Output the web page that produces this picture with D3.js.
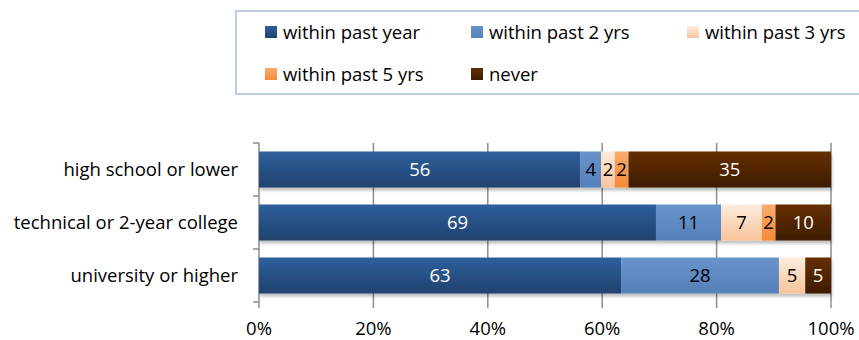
<!DOCTYPE html>
<html>
<head>
<meta charset="utf-8">
<script src="https://cdn.jsdelivr.net/npm/d3@7"></script>
<style>
  body { margin: 0; background: #fff; }
  svg { display: block; font-family: 'Open Sans', 'Liberation Sans', Arial, sans-serif; }
</style>
</head>
<body>
<div id="chart"></div>
<script>
// Education groups, top to bottom.
const categories = ['high school or lower', 'technical or 2-year college', 'university or higher']

// Series (in percent).
const seriesNames = ['within past year', 'within past 2 yrs', 'within past 3 yrs', 'within past 5 yrs', 'never']
const pastYear = [56.2, 69.4, 63.3]
const past2 = [3.6, 11.4, 27.6]
const past3 = [2.4, 7.1, 4.6]
const past5 = [2.4, 2.4, 0]
const never = [35.4, 9.7, 4.5]

const tickValues = [0, 20, 40, 60, 80, 100]

// Gradient stops (top, bottom) and label colour per series.
const fills = [
  ['#2e5f9c', '#20426f'],
  ['#6893cb', '#5580b9'],
  ['#fdecde', '#f8c49a'],
  ['#f9ab6e', '#f68a38'],
  ['#652f00', '#3e1c00']
]
const labelColors = ['#fff', '#000', '#000', '#000', '#fff']

const fontSize = 18.5
const width = 859, height = 340
const margin = { left: 259, right: 28, top: 143, bottom: 38 }

const rows = categories.map((c, i) => ({
  cat: c,
  s0: pastYear[i], s1: past2[i], s2: past3[i], s3: past5[i], s4: never[i]
}))
const keys = ['s0', 's1', 's2', 's3', 's4']
const stacked = d3.stack().keys(keys)(rows)

const svg = d3.select('#chart').append('svg')
  .attr('width', width)
  .attr('height', height)

const defs = svg.append('defs')
fills.forEach((f, i) => {
  const g = defs.append('linearGradient')
    .attr('id', 'grad' + i)
    .attr('x1', 0).attr('y1', 0).attr('x2', 0).attr('y2', 1)
  g.append('stop').attr('offset', '0%').attr('stop-color', f[0])
  g.append('stop').attr('offset', '100%').attr('stop-color', f[1])
})
const shadow = defs.append('filter').attr('id', 'shadow')
  .attr('x', '-5%').attr('y', '-20%').attr('width', '110%').attr('height', '150%')
shadow.append('feDropShadow')
  .attr('dx', 1).attr('dy', 3).attr('stdDeviation', 1.5)
  .attr('flood-color', '#000').attr('flood-opacity', 0.25)

const x = d3.scaleLinear()
  .domain([0, 100])
  .range([margin.left, width - margin.right])

const y = d3.scaleBand()
  .domain(categories)
  .range([margin.top, height - margin.bottom])
  .paddingInner(0.32)
  .paddingOuter(0.16)

// Gridlines, extended below as ticks.
svg.append('g')
  .selectAll('line')
  .data(tickValues)
  .enter()
  .append('line')
    .attr('x1', d => x(d)).attr('x2', d => x(d))
    .attr('y1', margin.top).attr('y2', height - margin.bottom + 6)
    .attr('stroke', '#8c8c8c')
    .attr('stroke-width', 1.5)

// Y axis ticks at band boundaries.
const boundaries = categories.map(c => y(c) - y.step() * y.paddingOuter())
boundaries.push(height - margin.bottom)
svg.append('g')
  .selectAll('line')
  .data(boundaries)
  .enter()
  .append('line')
    .attr('x1', margin.left - 6).attr('x2', margin.left)
    .attr('y1', d => d).attr('y2', d => d)
    .attr('stroke', '#8c8c8c')
    .attr('stroke-width', 1.5)

// Bars.
const layer = svg.append('g').attr('filter', 'url(#shadow)')
stacked.forEach((s, i) => {
  layer.selectAll('.bar' + i)
    .data(s)
    .enter()
    .append('rect')
      .attr('x', d => x(d[0]))
      .attr('y', d => y(d.data.cat))
      .attr('width', d => x(d[1]) - x(d[0]))
      .attr('height', y.bandwidth())
      .attr('fill', 'url(#grad' + i + ')')
})

// Value labels.
stacked.forEach((s, i) => {
  svg.append('g')
    .selectAll('text')
    .data(s.filter(d => d[1] - d[0] > 0))
    .enter()
    .append('text')
      .attr('x', d => (x(d[0]) + x(d[1])) / 2)
      .attr('y', d => y(d.data.cat) + y.bandwidth() / 2)
      .attr('dy', '0.36em')
      .attr('text-anchor', 'middle')
      .attr('font-size', fontSize)
      .attr('fill', labelColors[i])
      .text(d => Math.round(d[1] - d[0]))
})

// Category labels.
svg.append('g')
  .selectAll('text')
  .data(categories)
  .enter()
  .append('text')
    .attr('x', margin.left - 21)
    .attr('y', d => y(d) + y.bandwidth() / 2)
    .attr('dy', '0.36em')
    .attr('text-anchor', 'end')
    .attr('font-size', fontSize)
    .attr('fill', '#000')
    .text(d => d)

// X tick labels.
svg.append('g')
  .selectAll('text')
  .data(tickValues)
  .enter()
  .append('text')
    .attr('x', d => x(d))
    .attr('y', 335)
    .attr('text-anchor', 'middle')
    .attr('font-size', fontSize)
    .attr('fill', '#000')
    .text(d => d + '%')

// Legend.
svg.append('rect')
  .attr('x', 236).attr('y', 11)
  .attr('width', 640).attr('height', 83)
  .attr('fill', '#fff')
  .attr('stroke', '#b9cde5')
  .attr('stroke-width', 2)

const legendPos = [[265, 26], [471, 26], [687, 26], [265, 68], [471, 68]]
const legend = svg.append('g')
  .selectAll('g')
  .data(seriesNames)
  .enter()
  .append('g')
    .attr('transform', (d, i) => 'translate(' + legendPos[i][0] + ',' + legendPos[i][1] + ')')
legend.append('rect')
  .attr('width', 12).attr('height', 12)
  .attr('fill', (d, i) => 'url(#grad' + i + ')')
legend.append('text')
  .attr('x', 18)
  .attr('y', 6)
  .attr('dy', '0.36em')
  .attr('font-size', fontSize)
  .attr('fill', '#000')
  .text(d => d)
</script>
</body>
</html>
